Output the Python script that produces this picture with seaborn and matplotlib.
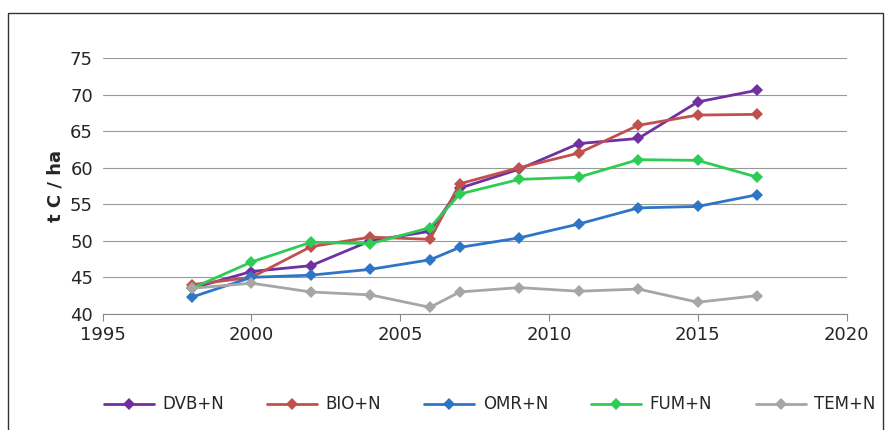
import numpy as np
import pandas as pd
import matplotlib.pyplot as plt
import seaborn as sns
from matplotlib.patches import Rectangle

years = [1998, 2000, 2002, 2004, 2006, 2007, 2009, 2011, 2013, 2015, 2017]
dvb = [43.5, 45.8, 46.6, 50.0, 51.3, 57.2, 59.8, 63.3, 64.0, 69.0, 70.6]
bio = [44.0, 45.0, 49.2, 50.5, 50.2, 57.8, 60.0, 62.0, 65.8, 67.2, 67.3]
omr = [42.3, 45.0, 45.3, 46.1, 47.4, 49.1, 50.4, 52.3, 54.5, 54.7, 56.3]
fum = [43.5, 47.1, 49.8, 49.6, 51.8, 56.4, 58.4, 58.7, 61.1, 61.0, 58.7]
tem = [43.5, 44.2, 43.0, 42.6, 40.9, 43.0, 43.6, 43.1, 43.4, 41.6, 42.5]
names = ['DVB+N', 'BIO+N', 'OMR+N', 'FUM+N', 'TEM+N']
colors = ['#7030a0', '#c0504d', '#2e75c6', '#2ecc55', '#a6a6a6']

df = pd.DataFrame({'year': years * 5,
                   'value': dvb + bio + omr + fum + tem,
                   'series': [n for n in names for _ in years]})

sns.set_style('white')
plt.rcParams['font.family'] = ['DejaVu Sans']
fig = plt.figure(figsize=(8.93, 4.30), dpi=100)
ax = fig.add_axes([0.115, 0.27, 0.833, 0.595])
sns.lineplot(data=df, x='year', y='value', hue='series', palette=colors,
             marker='D', markersize=6, markeredgewidth=0, linewidth=2, ax=ax)
ax.set_xlim(1995, 2020)
ax.set_ylim(40, 75)
ax.set_xticks(range(1995, 2021, 5))
ax.set_yticks(range(40, 76, 5))
ax.yaxis.grid(True, color='#999999', linewidth=0.8)
for s in ['top', 'right', 'left']:
    ax.spines[s].set_visible(False)
ax.spines['bottom'].set_color('#888888')
ax.tick_params(axis='x', bottom=True, length=5, color='#888888')
ax.tick_params(labelsize=13)
ax.set_xlabel('')
ax.set_ylabel('t C / ha', fontsize=13, fontweight='bold', labelpad=4)
ax.legend(loc='upper center', bbox_to_anchor=(0.52, -0.26), ncol=5,
          frameon=False, fontsize=12, handlelength=3.0, handletextpad=0.5,
          columnspacing=2.6)
fig.patches.append(Rectangle((0.009, -0.05), 0.98, 1.02, transform=fig.transFigure,
                             fill=False, edgecolor='#333333', linewidth=1))
fig.savefig('out.png', dpi=100)
